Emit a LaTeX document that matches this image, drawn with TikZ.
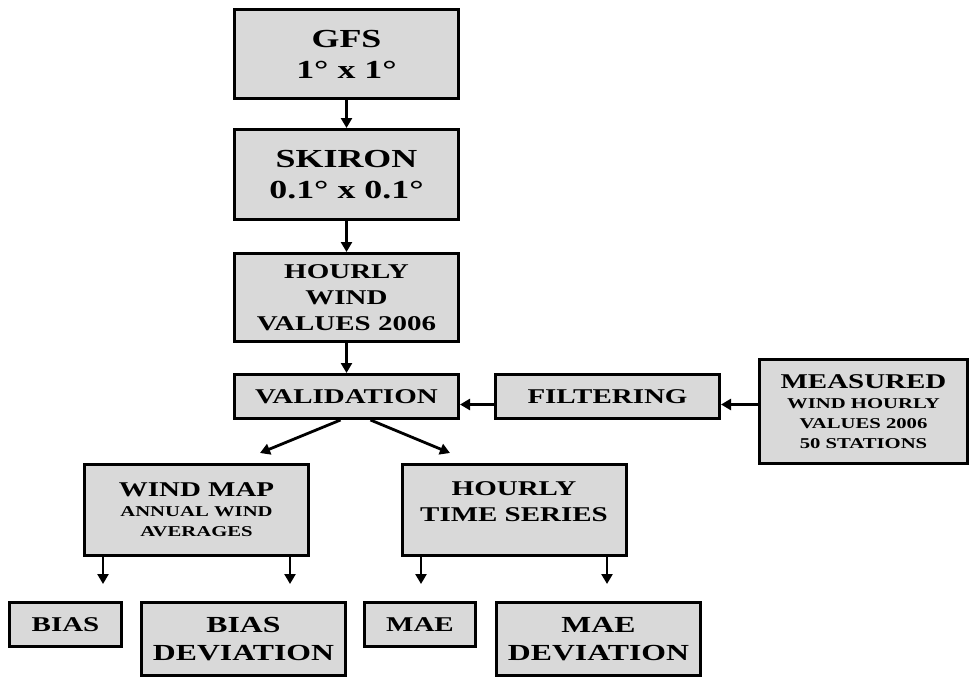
\documentclass[tikz,border=0pt]{standalone}
\usepackage{fontspec}
\setmainfont{Liberation Serif}[FakeStretch=1.38]
\usetikzlibrary{positioning,arrows.meta}
\definecolor{BoxGray}{RGB}{217,217,217}
\newcommand{\boxtitle}[1]{{\fontsize{21}{21}\selectfont #1}}
\tikzset{
  flowbox/.style={draw=black,fill=BoxGray,line width=3pt,align=center,
                  inner sep=0pt,minimum width=224pt,minimum height=89pt},
  hugetxt/.style={font=\fontsize{26}{31}\selectfont\bfseries},
  headtxt/.style={font=\fontsize{21}{26}\selectfont\bfseries},
  subtxt/.style={font=\fontsize{15}{20}\selectfont\bfseries},
  devtxt/.style={font=\fontsize{23}{28}\selectfont\bfseries},
  arr/.style={-{Triangle[length=10pt,width=11pt]},line width=2.8pt},
}

\begin{document}
\begin{tikzpicture}[x=1pt,y=-1pt]
    \useasboundingbox (0,0) rectangle (969,677);
    % model chain
    \node[flowbox,hugetxt] (gfs) at (346.5,54) {GFS\\1° x 1°};
    \node[flowbox,hugetxt,below=28pt of gfs,minimum height=90pt] (skiron) {SKIRON\\0.1° x 0.1°};
    \node[flowbox,headtxt,below=31pt of skiron,minimum height=88pt] (hourly) {HOURLY\\WIND\\VALUES 2006};
    \node[flowbox,headtxt,below=30pt of hourly,minimum height=44pt] (valid) {VALIDATION};
    % measurements
    \node[flowbox,headtxt,right=34pt of valid,minimum height=44pt] (filter) {FILTERING};
    \node[flowbox,subtxt,right=37pt of filter,yshift=-15pt,minimum width=208pt,minimum height=104pt] (measured)
        {\boxtitle{MEASURED}\\WIND HOURLY\\VALUES 2006\\50 STATIONS};
    % products
    \node[flowbox,subtxt,minimum height=91pt] (windmap) at (196.5,510) {\boxtitle{WIND MAP}\\ANNUAL WIND\\AVERAGES};
    \node[flowbox,headtxt,minimum height=91pt] (series) at (514,510) {HOURLY\\TIME SERIES\\[-10pt]~};
    % statistics
    \node[flowbox,headtxt,minimum width=112pt,minimum height=44pt] (bias) at (65.5,624.5) {BIAS};
    \node[flowbox,devtxt,minimum width=204pt,minimum height=73pt] (biasdev) at (243.5,639) {BIAS\\DEVIATION};
    \node[flowbox,headtxt,minimum width=111pt,minimum height=44pt] (mae) at (420,624.5) {MAE};
    \node[flowbox,devtxt,minimum width=204pt,minimum height=73pt] (maedev) at (598.5,639) {MAE\\DEVIATION};

    \draw[arr] (gfs) -- (skiron);
    \draw[arr] (skiron) -- (hourly);
    \draw[arr] (hourly) -- (valid);
    \coordinate (fl) at ([yshift=-8pt]filter.west);
    \coordinate (fr) at ([yshift=-8pt]filter.east);
    \draw[arr] (fl) -- (valid.east |- fl);
    \draw[arr] (measured.west |- fr) -- (fr);
    \coordinate (wmtip) at (260,453);
    \coordinate (hstip) at (450,453);
    \draw[arr] ([xshift=-6pt]valid.south) -- (wmtip);
    \draw[arr] ([xshift=24pt]valid.south) -- (hstip);
    \coordinate (t1) at (103,584);
    \coordinate (t2) at (290,584);
    \coordinate (t3) at (421,584);
    \coordinate (t4) at (607,584);
    \draw[arr] (windmap.south -| t1) -- (t1);
    \draw[arr] (windmap.south -| t2) -- (t2);
    \draw[arr] (series.south -| t3) -- (t3);
    \draw[arr] (series.south -| t4) -- (t4);
\end{tikzpicture}
\end{document}
